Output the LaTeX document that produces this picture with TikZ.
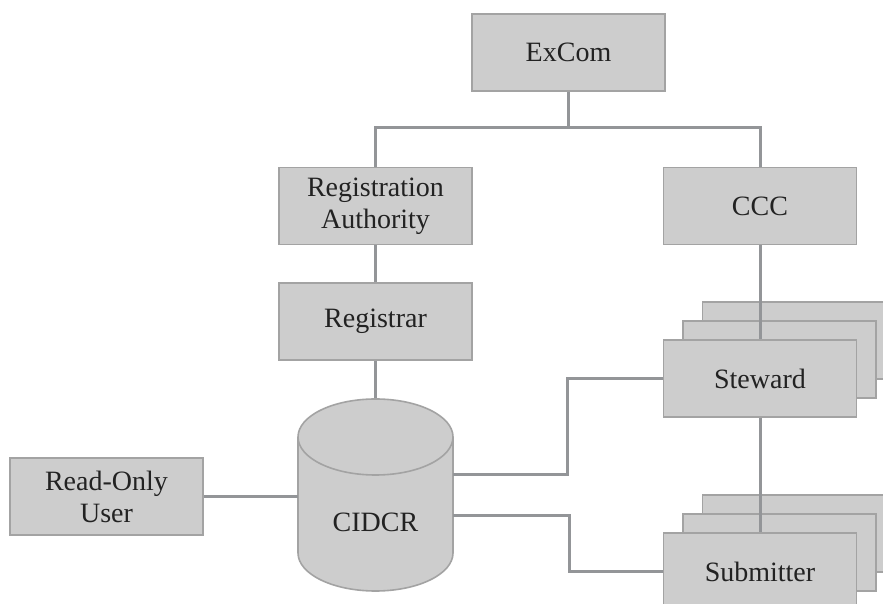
\documentclass[tikz,border=0pt]{standalone}
\usepackage{fontspec}
\setmainfont{Liberation Serif}
\definecolor{boxfill}{HTML}{CDCDCD}
\definecolor{boxedge}{HTML}{A3A3A3}
\definecolor{linkgray}{HTML}{939598}
\definecolor{ink}{HTML}{222222}
\begin{document}
\begin{tikzpicture}[x=1pt,y=1pt,
  box/.style={draw=boxedge, fill=boxfill, line width=1.6pt,
    minimum width=193pt, minimum height=77pt, inner sep=0pt,
    align=center, text=ink, font=\fontsize{28}{32}\selectfont},
  link/.style={draw=linkgray, line width=3pt}]
\useasboundingbox (0,0) rectangle (883,604);

% top of the hierarchy
\node[box] (excom) at (568.5,551.5) {ExCom};
\node[box] (ra) at (375.5,398) {Registration\\Authority};
\node[box] (ccc) at (760,398) {CCC};
\node[box] (registrar) at (375.5,282.5) {Registrar};
\node[box] (ro) at (106.5,107.5) {Read-Only\\User};

% database cylinder
\fill[boxfill] (298,167) -- (298,51)
  arc[start angle=180,end angle=360,x radius=77.5,y radius=38] -- (453,167)
  arc[start angle=0,end angle=180,x radius=77.5,y radius=38] -- cycle;
\draw[boxedge, line width=1.6pt] (298,167) -- (298,51)
  arc[start angle=180,end angle=360,x radius=77.5,y radius=38] -- (453,167);
\draw[boxedge, line width=1.6pt] (375.5,167) ellipse[x radius=77.5,y radius=38];
\node[minimum width=155pt, minimum height=193pt, inner sep=0pt] (db) at (375.5,109.5) {};
\node[text=ink, font=\fontsize{28}{32}\selectfont] (dblabel) at (375.5,82) {CIDCR};

% stacked steward and submitter boxes
\node[box] (stw3) at (799,263.5) {};
\node[box] (stw2) at (779.5,244.5) {};
\node[box] (sub3) at (799,70.5) {};
\node[box] (sub2) at (779.5,51.5) {};

% connectors
\coordinate (bus) at (568.5,476);
\draw[link] (excom.south) -- (bus);
\draw[link] (ra.north) |- (bus) -| (ccc.north);
\draw[link] (ra.south) -- (registrar.north);
\draw[link] (registrar.south) -- (db.north);
\draw[link] (ro.east) -- (ro.east -| db.west);
\draw[link] (ccc.south) -- (760,264);

\node[box] (stw) at (760,225.5) {Steward};
\draw[link] (stw.south) -- (760,71);
\node[box] (sub) at (760,32.5) {Submitter};

\draw[link] ([yshift=19.5pt]db.east) -- ++(114,0) |- (stw.west);
\draw[link] ([yshift=-21.5pt]db.east) -- ++(116,0) |- (sub.west);
\draw[link] (ccc.south) -- (stw.north);
\draw[link] (stw.south) -- (sub.north);
\end{tikzpicture}
\end{document}
